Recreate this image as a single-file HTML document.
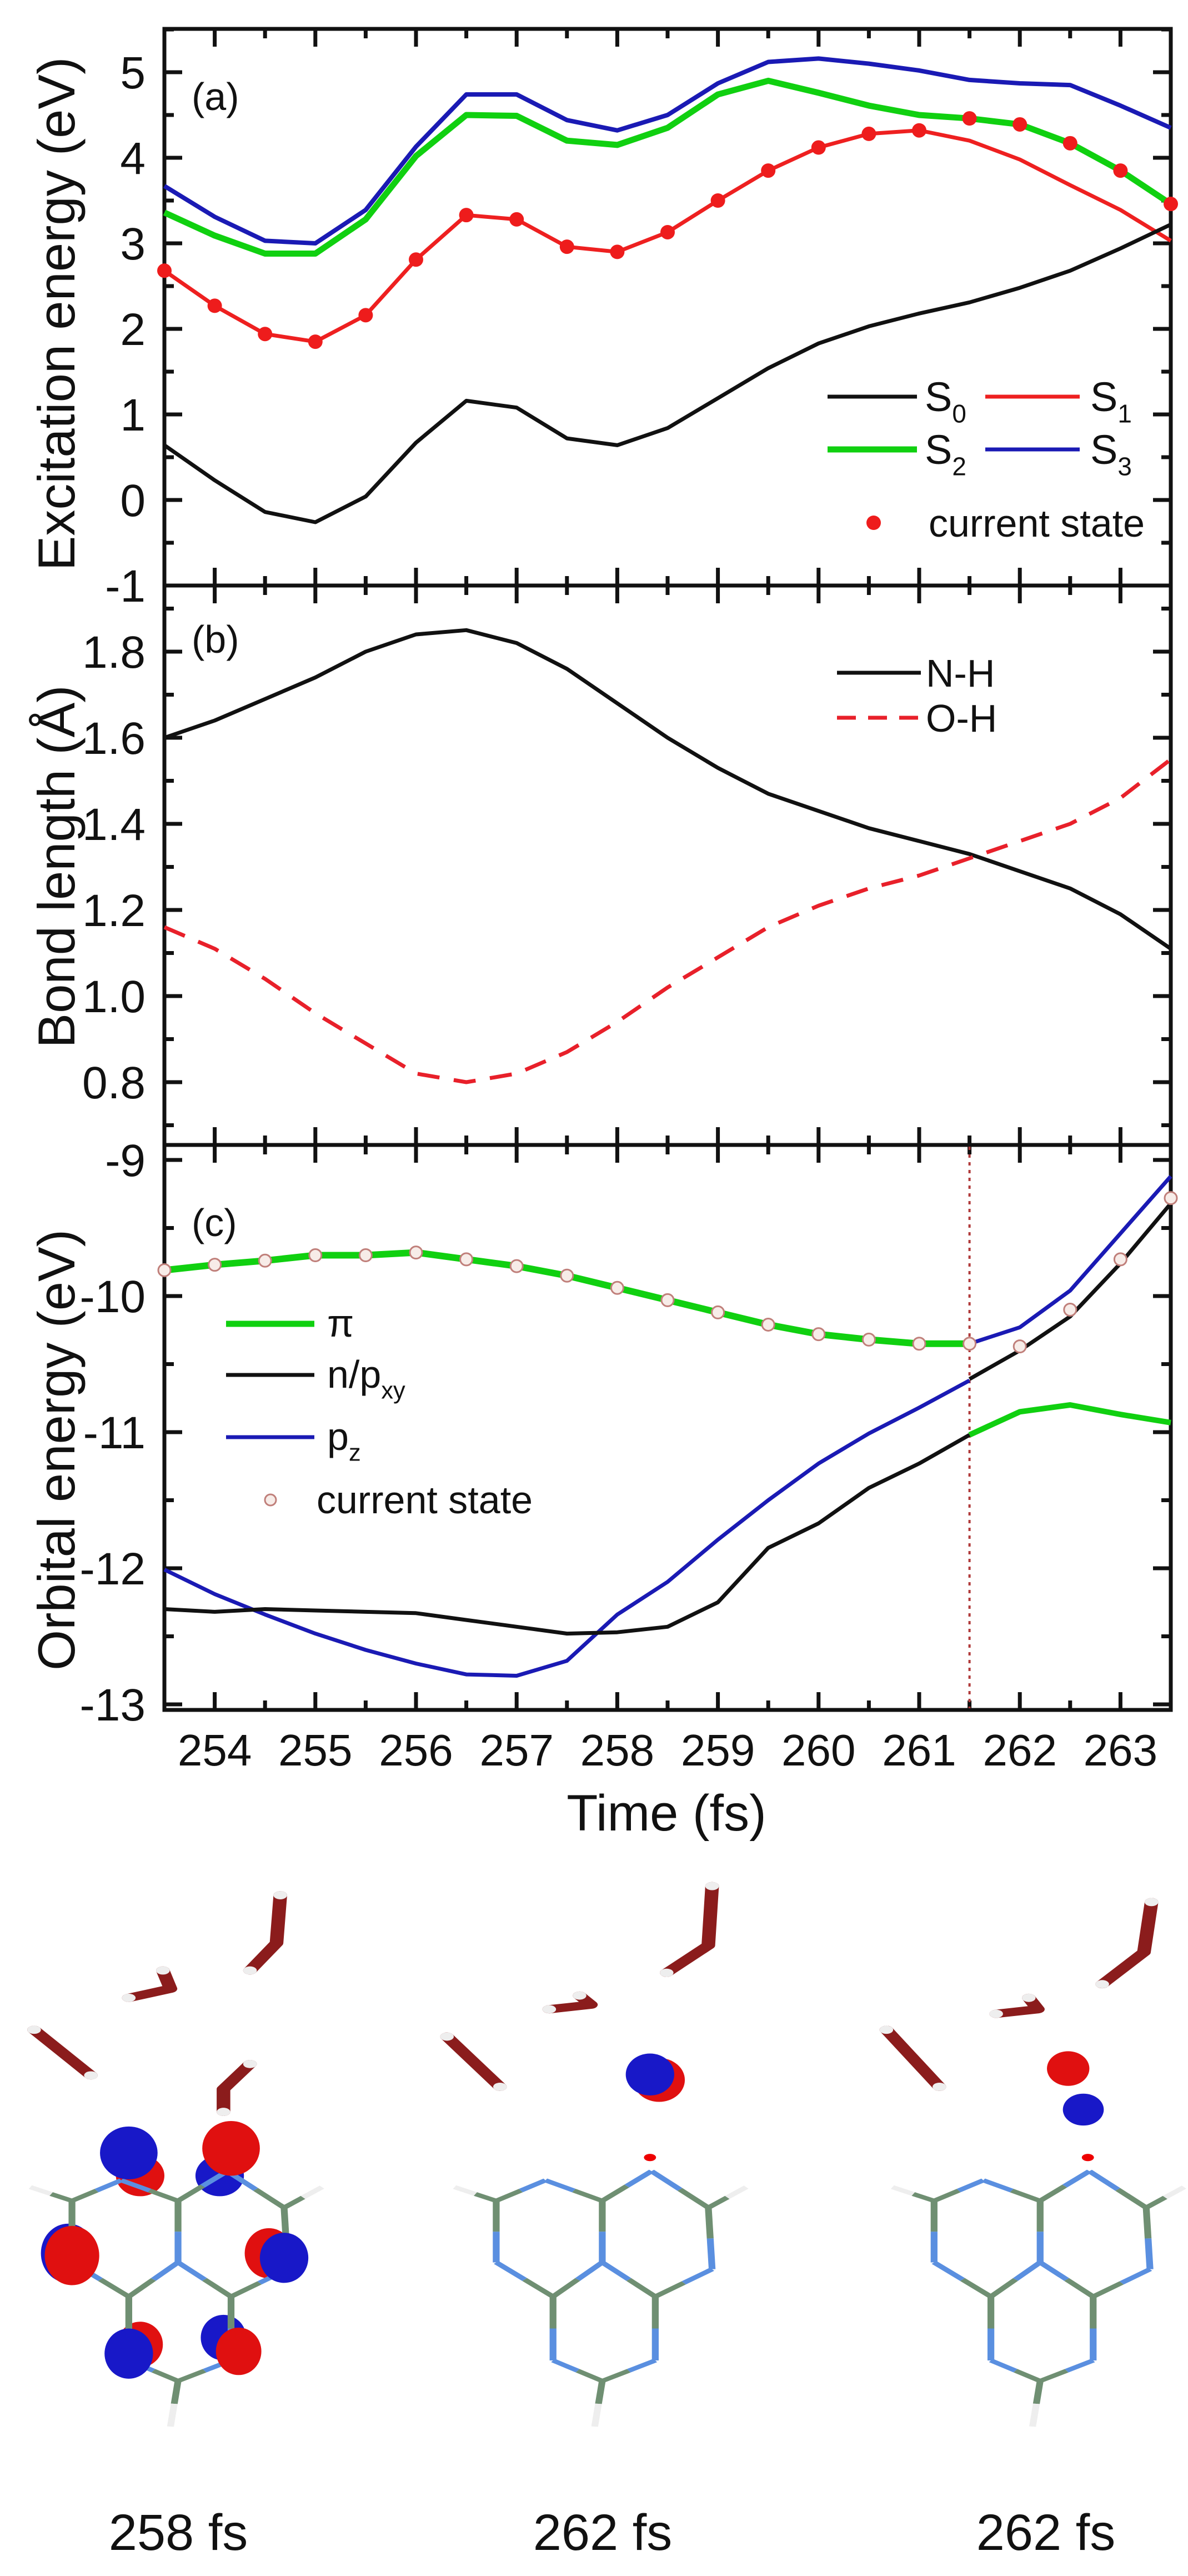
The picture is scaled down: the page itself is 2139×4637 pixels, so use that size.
<!DOCTYPE html>
<html><head><meta charset="utf-8"><style>
html,body{margin:0;padding:0;background:#fff;}
svg{display:block;font-family:"Liberation Sans",Arial,sans-serif;}
</style></head><body>
<svg id="fig" width="2139" height="4637" viewBox="0 0 2139 4637" xmlns="http://www.w3.org/2000/svg">
</svg>
<script>
// ---- data ----
const timeA = [253.5,254,254.5,255,255.5,256,256.5,257,257.5,258,258.5,259,259.5,260,260.5,261,261.5,262,262.5,263,263.5];
const s0 = [0.64,0.23,-0.14,-0.26,0.04,0.67,1.16,1.08,0.72,0.64,0.84,1.19,1.54,1.83,2.03,2.18,2.31,2.48,2.68,2.94,3.22];
const s1 = [2.68,2.27,1.94,1.85,2.16,2.81,3.33,3.28,2.96,2.90,3.13,3.50,3.85,4.12,4.28,4.32,4.20,3.98,3.68,3.39,3.03];
const s2 = [3.36,3.09,2.88,2.88,3.28,4.02,4.50,4.49,4.20,4.15,4.35,4.74,4.90,4.76,4.61,4.50,4.46,4.39,4.17,3.85,3.46];
const s3 = [3.67,3.31,3.03,3.00,3.39,4.13,4.74,4.74,4.44,4.32,4.50,4.87,5.12,5.16,5.10,5.02,4.91,4.87,4.85,4.61,4.35];
const currentA = [2.68,2.27,1.94,1.85,2.16,2.81,3.33,3.28,2.96,2.90,3.13,3.50,3.85,4.12,4.28,4.32,4.46,4.39,4.17,3.85,3.46];
const nh = [1.60,1.64,1.69,1.74,1.80,1.84,1.85,1.82,1.76,1.68,1.60,1.53,1.47,1.43,1.39,1.36,1.33,1.29,1.25,1.19,1.11];
const oh = [1.16,1.11,1.04,0.96,0.89,0.82,0.80,0.82,0.87,0.94,1.02,1.09,1.16,1.21,1.25,1.28,1.32,1.36,1.40,1.46,1.55];
const timeC1 = [253.5,254,254.5,255,255.5,256,256.5,257,257.5,258,258.5,259,259.5,260,260.5,261,261.5];
const timeC2 = [261.5,262,262.5,263,263.5];
const piA = [-9.81,-9.77,-9.74,-9.70,-9.70,-9.68,-9.73,-9.78,-9.85,-9.94,-10.03,-10.12,-10.21,-10.28,-10.32,-10.35,-10.35];
const greenB = [-11.02,-10.85,-10.80,-10.87,-10.93];
const blackA = [-12.30,-12.32,-12.30,-12.31,-12.32,-12.33,-12.38,-12.43,-12.48,-12.47,-12.43,-12.25,-11.85,-11.67,-11.41,-11.23,-11.02];
const blackB = [-10.61,-10.40,-10.15,-9.76,-9.32];
const blueA = [-12.01,-12.19,-12.34,-12.48,-12.60,-12.70,-12.78,-12.79,-12.68,-12.34,-12.10,-11.79,-11.50,-11.23,-11.01,-10.82,-10.62];
const blueB = [-10.35,-10.23,-9.96,-9.54,-9.12];
const currentC = [-9.81,-9.77,-9.74,-9.70,-9.70,-9.68,-9.73,-9.78,-9.85,-9.94,-10.03,-10.12,-10.21,-10.28,-10.32,-10.35,-10.35,-10.37,-10.10,-9.73,-9.28];
const xTicks = [254,255,256,257,258,259,260,261,262,263];
const yTicksA = [-1,0,1,2,3,4,5];
const yTicksB = [0.8,1.0,1.2,1.4,1.6,1.8];
const yTicksC = [-9,-10,-11,-12,-13];
const switchTime = 261.5;

// ---- scales ----
const X0=296, X1=2108;
const xS = t => X0 + (t-253.5)*181.2;
const yA = v => 130 + (5-v)*154;
const yB = v => 1173 + (1.8-v)*775;
const yC = v => 2088 + (-9-v)*245;
const NS="http://www.w3.org/2000/svg";
const svg=document.getElementById('fig');
function mk(tag,attrs,parent){const e=document.createElementNS(NS,tag);for(const k in attrs)e.setAttribute(k,attrs[k]);(parent||svg).appendChild(e);return e;}
function txt(x,y,s,size,anchor,parent){const e=mk('text',{x:x,y:y,'font-size':size,'text-anchor':anchor||'start',fill:'#111'},parent);e.textContent=s;return e;}
function pathOf(ts,vs,ys){return ts.map((t,i)=>(i?'L':'M')+xS(t).toFixed(1)+' '+ys(vs[i]).toFixed(1)).join(' ');}
function line(ts,vs,ys,color,w,name,dash){const p=mk('path',{d:pathOf(ts,vs,ys),fill:'none',stroke:color,'stroke-width':w,'stroke-linejoin':'round'});if(dash)p.setAttribute('stroke-dasharray',dash);


return p;}

function frame(top,bot,ys,majors,minorStep,vmin,vmax,name){
  const g=mk('g',{});
  
  
  mk('rect',{x:X0,y:top,width:X1-X0,height:bot-top,fill:'none',stroke:'#111','stroke-width':7},g);
  for(let t=253.5;t<=263.51;t+=0.5){const maj=Number.isInteger(t);const L=maj?32:17;const x=xS(t);
    mk('line',{x1:x,y1:bot,x2:x,y2:bot-L,stroke:'#111','stroke-width':7},g);
    mk('line',{x1:x,y1:top,x2:x,y2:top+L,stroke:'#111','stroke-width':7},g);}
  const n=Math.round((vmax-vmin)/minorStep);
  for(let i=0;i<=n;i++){const v=vmin+i*minorStep;const y=ys(v);if(y<top-1||y>bot+1)continue;
    const maj=majors.some(m=>Math.abs(m-v)<1e-6);const L=maj?32:17;
    mk('line',{x1:X0,y1:y,x2:X0+L,y2:y,stroke:'#111','stroke-width':7},g);
    mk('line',{x1:X1,y1:y,x2:X1-L,y2:y,stroke:'#111','stroke-width':7},g);}
  majors.forEach(m=>{const t=txt(262,ys(m)+29,(Math.abs(m)<1e-9?'0':(name==='panel-b'?m.toFixed(1):String(m))),82,'end',g);
    
    });
  return g;
}
frame(52,1054,yA,yTicksA,0.5,-1,5.5,'panel-a');
frame(1054,2061,yB,yTicksB,0.1,0.6,2.0,'panel-b');
frame(2061,3078,yC,yTicksC,0.5,-13.5,-8.5,'panel-c');

xTicks.forEach(t=>{const e=txt(xS(t),3178,String(t),80,'middle');
  
  });
let e;
e=txt(1200,3295,'Time (fs)',92,'middle');


function ytitle(cx,cy,s,name){const t=mk('text',{x:0,y:0,'font-size':94,'text-anchor':'middle',fill:'#111',transform:'translate('+cx+','+cy+') rotate(-90)'});t.textContent=s;

}
ytitle(134,565,'Excitation energy (eV)','y-axis-title-a');
ytitle(134,1560,'Bond length (Å)','y-axis-title-b');
ytitle(134,2610,'Orbital energy (eV)','y-axis-title-c');
[['(a)',198,'label-a'],['(b)',1175,'label-b'],['(c)',2225,'label-c']].forEach(a=>{const t=txt(345,a[1],a[0],70);
  
  });

// panel a series
line(timeA,s3,yA,'#1a1ab4',8,'s3-line');
line(timeA,s2,yA,'#10d010',11,'s2-line');
line(timeA,s1,yA,'#ee2020',7,'s1-line');
line(timeA,s0,yA,'#111',7,'s0-line');
timeA.forEach((t,i)=>{const c=mk('circle',{cx:xS(t),cy:yA(currentA[i]),r:13,fill:'#ee1c1c'});
  
  });
// panel b
line(timeA,nh,yB,'#111',7,'nh-line');
line(timeA,oh,yB,'#e8202a',7,'oh-line','40 26');
// panel c
const vl=mk('line',{x1:xS(switchTime),y1:2064,x2:xS(switchTime),y2:3075,stroke:'#b03a3a','stroke-width':4,'stroke-dasharray':'6 8'});


line(timeC1,blueA,yC,'#1a1ab4',7,'pz-line-a');
line(timeC2,blueB,yC,'#1a1ab4',7,'pz-line-b');
line(timeC1,blackA,yC,'#111',7,'n-pxy-line-a');
line(timeC2,blackB,yC,'#111',7,'n-pxy-line-b');
line(timeC1,piA,yC,'#10d010',12,'pi-line-a');
line(timeC2,greenB,yC,'#10d010',10,'pi-line-b');
timeA.forEach((t,i)=>{const c=mk('circle',{cx:xS(t),cy:yC(currentC[i]),r:11,fill:'#f7ece8',stroke:'#c07f7a','stroke-width':3});
  
  });

// legends
function legLine(x1,x2,y,color,w,dash,name){const l=mk('line',{x1:x1,y1:y,x2:x2,y2:y,stroke:color,'stroke-width':w});if(dash)l.setAttribute('stroke-dasharray',dash);

}
function subTxt(x,y,main,sub,size,name){const t=mk('text',{x:x,y:y,'font-size':size,fill:'#111'});t.textContent=main;
  const s=mk('tspan',{'font-size':size*0.62,dy:size*0.28},t);s.textContent=sub;
  
  }
legLine(1490,1651,714,'#111',7,null,'legend-s0-line');subTxt(1665,740,'S','0',74,'legend-s0');
legLine(1774,1944,714,'#ee2020',7,null,'legend-s1-line');subTxt(1963,740,'S','1',74,'legend-s1');
legLine(1490,1651,809,'#10d010',11,null,'legend-s2-line');subTxt(1665,835,'S','2',74,'legend-s2');
legLine(1774,1944,809,'#1a1ab4',7,null,'legend-s3-line');subTxt(1963,835,'S','3',74,'legend-s3');
e=mk('circle',{cx:1573,cy:941,r:13,fill:'#ee1c1c'});


e=txt(1672,966,'current state',70);


legLine(1507,1658,1211,'#111',7,null,'legend-nh-line');
e=txt(1667,1236,'N-H',70);


legLine(1507,1658,1292,'#e8202a',7,'34 22','legend-oh-line');
e=txt(1667,1317,'O-H',70);


legLine(407,566,2383,'#10d010',11,null,'legend-pi-line');
e=txt(589,2406,'π',70);


legLine(407,566,2475,'#111',7,null,'legend-npxy-line');subTxt(589,2498,'n/p','xy',70,'legend-npxy');
legLine(407,566,2587,'#1a1ab4',7,null,'legend-pz-line');subTxt(589,2610,'p','z',70,'legend-pz');
e=mk('circle',{cx:487,cy:2700,r:10,fill:'#f7ece8',stroke:'#c07f7a','stroke-width':3});


e=txt(570,2724,'current state',70);



// ---- molecules (drawn in zoom coordinate frame) ----
const mg=mk('g',{transform:'translate(0,3350) scale(1.364,0.821)'});


const atoms={A:[655,745,'C'],B:[720,700,'N'],C:[795,745,'C'],D:[860,680,'N'],E:[935,760,'C'],F:[940,895,'N'],G:[655,880,'N'],H:[730,955,'C'],I:[795,880,'N'],J:[865,955,'C'],K:[730,1095,'N'],L:[795,1140,'C'],M:[865,1095,'N'],H1:[600,715,'H'],H2:[985,715,'H'],H3:[785,1240,'H']};
const bonds=[['A','B'],['B','C'],['C','D'],['D','E'],['E','F'],['F','J'],['J','I'],['I','H'],['H','G'],['G','A'],['C','I'],['H','K'],['K','L'],['L','M'],['M','J'],['A','H1'],['E','H2'],['L','H3']];
const col={C:'#6f8f72',N:'#5a8fe0',H:'#eeeeee'};
function drawMol(dx,name,lobesBack,lobesFront,waters){
  const g=mk('g',{transform:'translate('+dx+',0)'},mg);
  
  
  waters.forEach(w=>{const pts=w.join(' ');mk('polyline',{points:pts,fill:'none',stroke:'#8b1c1c','stroke-width':18,'stroke-linecap':'round','stroke-linejoin':'round'},g);
    const a=w[0],b=w[w.length-1];mk('circle',{cx:a[0],cy:a[1],r:9,fill:'#eeeeee'},g);mk('circle',{cx:b[0],cy:b[1],r:9,fill:'#eeeeee'},g);});
  lobesBack.forEach(l=>mk('ellipse',{cx:l[0],cy:l[1],rx:l[2],ry:l[3],fill:l[4]},g));
  bonds.forEach(b=>{const p=atoms[b[0]],q=atoms[b[1]];const mx=(p[0]+q[0])/2,my=(p[1]+q[1])/2;
    mk('line',{x1:p[0],y1:p[1],x2:mx,y2:my,stroke:col[p[2]],'stroke-width':9},g);
    mk('line',{x1:mx,y1:my,x2:q[0],y2:q[1],stroke:col[q[2]],'stroke-width':9},g);});
  mk('circle',{cx:858,cy:650,r:8,fill:'#e00'},g);
  lobesFront.forEach(l=>mk('ellipse',{cx:l[0],cy:l[1],rx:l[2],ry:l[3],fill:l[4]},g));
}
drawMol(-560,'molecule-258fs',
 [[745,690,32,45,'#e01010'],[850,690,32,45,'#1818c8'],[650,860,36,65,'#1818c8'],[915,860,32,55,'#e01010'],[745,1060,30,50,'#e01010'],[855,1045,30,50,'#1818c8']],
 [[730,640,38,58,'#1818c8'],[865,630,38,60,'#e01010'],[655,865,36,65,'#e01010'],[935,870,32,55,'#1818c8'],[730,1080,32,55,'#1818c8'],[875,1075,30,52,'#e01010']],
 [[[890,240],[925,180],[930,75]],[[730,300],[785,280],[775,240]],[[605,370],[680,470]],[[855,550],[855,500],[890,445]]]);
drawMol(0,'molecule-262fs-a',[[870,480,34,48,'#e01010']],[[858,468,32,46,'#1818c8']],
 [[[880,245],[935,185],[940,55]],[[725,325],[780,315],[765,295]],[[590,385],[660,495]]]);
drawMol(578,'molecule-262fs-b',[],[[832,455,28,38,'#e01010'],[852,545,27,35,'#1818c8']],
 [[[877,270],[932,200],[942,90]],[[737,335],[792,325],[780,300]],[[592,370],[662,495]]]);
[[321,'258 fs','snapshot-label-258'],[1085,'262 fs','snapshot-label-262a'],[1883,'262 fs','snapshot-label-262b']].forEach(a=>{const t=txt(a[0],4590,a[1],92,'middle');
  
  });
</script>
</body></html>
